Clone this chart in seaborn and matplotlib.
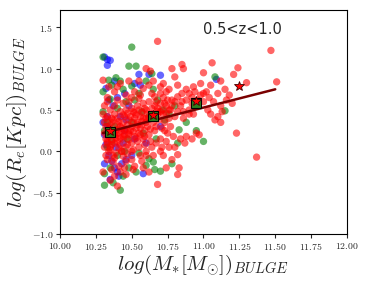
import numpy as np
import pandas as pd
import seaborn as sns
import matplotlib.pyplot as plt
from matplotlib.ticker import FuncFormatter

# scatter points (log M_bulge, log Re_bulge)
red_x = [11.47, 11.51, 11.37, 11.23, 11.24, 11.06, 11.30, 11.21, 11.12, 11.05, 11.15, 11.18, 11.10, 11.02, 11.07,
         11.12, 11.03, 11.10, 11.13, 11.20, 11.08, 11.00, 10.98, 10.93, 10.97, 10.95, 10.90, 10.88, 10.92, 10.98,
         11.00, 10.96, 10.90, 10.93, 10.85, 10.85, 10.82, 10.86, 10.85, 10.78, 10.80, 10.72, 10.76, 10.68, 10.60,
         10.63, 10.70, 10.75, 10.78, 10.82, 10.86, 10.88, 10.84, 10.80, 10.77, 10.73, 10.82, 10.83, 10.82, 10.78,
         10.74, 10.68, 10.72, 10.64, 10.60, 10.57, 10.60, 10.50, 10.45, 10.42, 10.40, 10.37, 10.33, 10.34, 10.30,
         10.34, 10.38, 10.42, 10.46, 10.52, 10.58, 10.62, 10.66, 10.55, 10.48, 10.40, 10.33, 10.30, 10.31, 10.35,
         10.38, 10.42, 10.46, 10.50, 10.54, 10.58, 10.62, 10.66, 10.70, 10.74, 10.78, 10.72, 10.68, 10.64, 10.60,
         10.56, 10.52, 10.48, 10.44, 10.40, 10.36, 10.32, 10.31, 10.34, 10.37, 10.41, 10.45, 10.49, 10.53, 10.57,
         10.61, 10.65, 10.69, 10.73, 10.76, 10.80, 10.66, 10.62, 10.58, 10.54, 10.50, 10.46, 10.42, 10.38, 10.33,
         10.31, 10.35, 10.39, 10.43, 10.47, 10.51, 10.55, 10.59, 10.63, 10.67, 10.70, 10.74, 10.71, 10.65, 10.56,
         10.48, 10.44, 10.36, 10.40, 10.44, 10.52, 10.60, 10.68, 10.76, 10.84, 10.88, 10.92, 10.96, 11.00, 11.04,
         10.94, 10.90, 10.86, 10.82, 10.80, 10.72, 10.64, 10.56, 10.50, 10.44, 10.38, 10.32, 10.34, 10.39, 10.43,
         10.47, 10.51, 10.55, 10.59, 10.63, 10.67, 10.71, 10.75, 10.79, 10.58, 10.52, 10.46, 10.38, 10.35, 10.62,
         10.70, 10.76, 10.87, 10.92, 10.55, 10.48, 10.40, 10.65, 10.70, 10.74, 11.16, 11.05, 11.12,
         10.32, 10.34, 10.36, 10.38, 10.40, 10.42, 10.44, 10.46, 10.48, 10.50, 10.52, 10.54, 10.56, 10.58, 10.60,
         10.31, 10.33, 10.35, 10.37, 10.39, 10.41, 10.43, 10.45, 10.47, 10.49, 10.51, 10.53, 10.55, 10.57, 10.59,
         10.32, 10.35, 10.38, 10.41, 10.44, 10.47, 10.50, 10.53, 10.56, 10.59, 10.62, 10.65, 10.68, 10.71, 10.74,
         10.33, 10.36, 10.39, 10.42, 10.45, 10.48, 10.51, 10.54, 10.57, 10.61, 10.64, 10.67, 10.70, 10.73, 10.77,
         10.36, 10.41, 10.46, 10.51, 10.30, 10.33, 10.37, 10.43]
red_y = [1.22, 0.84, -0.07, 0.22, 1.01, 1.07, 0.83, 0.93, 0.85, 0.80, 0.75, 0.68, 0.70, 0.72, 0.60,
         0.55, 0.50, 0.42, 0.48, 0.58, 0.38, 0.95, 0.82, 0.78, 0.20, 0.22, 0.70, 0.75, 0.65, 0.68,
         0.60, 0.55, 0.50, 0.45, 0.60, 0.70, 0.80, 1.00, 1.05, 1.00, 0.90, 0.82, 0.75, 1.33, 1.00,
         0.97, 0.70, 0.62, 0.55, 0.48, 0.40, 0.18, 0.15, 0.05, 0.30, 0.25, -0.04, -0.20, -0.28, -0.10,
         -0.20, -0.40, -0.05, 0.05, -0.05, -0.12, 0.00, -0.10, -0.20, -0.25, -0.42, -0.13, -0.10, 0.00, 0.86,
         0.78, 0.72, 0.82, 0.68, 0.72, 0.76, 0.80, 0.66, 0.64, 0.60, 0.62, 0.60, 0.45, 0.55, 0.50,
         0.45, 0.48, 0.50, 0.52, 0.55, 0.58, 0.60, 0.55, 0.58, 0.55, 0.62, 0.45, 0.48, 0.45, 0.40,
         0.42, 0.40, 0.38, 0.35, 0.32, 0.35, 0.30, 0.22, 0.18, 0.25, 0.22, 0.20, 0.25, 0.28, 0.32,
         0.30, 0.35, 0.38, 0.35, 0.40, 0.42, 0.25, 0.20, 0.15, 0.12, 0.10, 0.05, 0.08, 0.10, 0.12,
         0.05, 0.02, -0.02, 0.00, -0.03, 0.02, 0.05, 0.08, 0.12, 0.10, 0.15, 0.12, 0.05, -0.05, -0.05,
         0.14, 0.15, 0.40, 0.40, 0.44, 0.47, 0.50, 0.52, 0.50, 0.55, 0.62, 0.58, 0.62, 0.70, 0.65,
         0.72, 0.45, 0.48, 0.66, 0.60, 0.65, 0.70, 0.68, 0.65, 0.58, 0.55, 0.40, 0.24, 0.16, 0.28,
         0.32, 0.35, 0.22, 0.25, 0.27, 0.30, 0.28, 0.22, 0.18, -0.20, -0.18, -0.12, -0.30, -0.35, -0.25,
         0.00, 0.05, 0.10, 0.15, 0.85, 0.85, 0.78, 0.85, 0.78, 0.72, 0.62, 0.45, 0.35,
         0.15, 0.28, 0.08, 0.20, 0.12, 0.30, 0.18, 0.27, 0.22, 0.30, 0.18, 0.35, 0.28, 0.40, 0.35,
         0.35, 0.42, 0.32, 0.38, 0.26, 0.36, 0.24, 0.42, 0.46, 0.42, 0.48, 0.44, 0.50, 0.47, 0.52,
         -0.05, 0.05, -0.08, 0.04, -0.06, 0.08, 0.00, 0.16, 0.20, 0.18, 0.40, 0.42, 0.45, 0.50, 0.46,
         0.10, 0.14, 0.20, 0.16, 0.26, 0.20, 0.24, 0.32, 0.36, 0.45, 0.52, 0.60, 0.48, 0.58, 0.50,
         -0.22, -0.18, -0.28, -0.22, -0.25, 0.65, -0.05, 0.00]

green_x = [10.30, 10.50, 10.53, 10.48, 10.34, 10.39, 10.30, 10.36, 10.44, 10.50, 10.55, 10.64, 10.60, 10.65, 10.46,
           10.40, 10.30, 10.33, 10.38, 10.57, 10.62, 10.72, 10.80, 10.83, 10.82, 11.00, 11.15, 11.08, 10.95, 10.31,
           10.35, 10.31, 10.37, 10.42, 10.44, 10.48, 10.53, 10.60, 10.65, 10.66, 10.70, 10.78, 10.55, 10.62, 10.40,
           10.45, 10.33, 10.36, 10.31, 10.50, 10.58, 10.67, 10.73, 10.47, 10.35, 10.42, 10.52, 10.68, 10.76, 10.88]
green_y = [1.14, 1.26, 1.03, 1.03, 0.86, 0.89, 0.72, 0.80, 0.75, 0.79, 0.70, 0.94, 0.85, 0.75, 0.60,
           0.52, 0.48, 0.35, 0.30, 0.48, 0.42, 0.50, 0.55, 0.26, 0.10, 0.12, 0.49, 0.90, 0.25, -0.27,
           -0.20, -0.41, -0.38, -0.47, -0.30, -0.20, -0.25, -0.17, -0.13, -0.22, -0.24, -0.15, -0.02, -0.09, -0.05,
           0.00, 0.05, 0.12, 0.25, 0.35, 0.22, 0.15, 0.38, 0.15, 0.63, 0.85, 0.62, 0.62, 0.45, 0.35]

blue_x = [10.31, 10.33, 10.35, 10.33, 10.38, 10.32, 10.34, 10.40, 10.52, 10.55, 10.62, 10.70, 10.56, 10.45, 10.33,
          10.42, 10.46, 10.31, 10.32, 10.34, 10.31, 10.36, 10.38, 10.40, 10.35, 10.43, 10.46, 10.50, 10.58, 10.52,
          10.60, 10.45, 10.70, 10.30, 10.37, 10.48, 10.41, 10.33, 11.09, 10.44, 10.39]
blue_y = [1.14, 1.11, 1.10, 1.04, 0.85, 0.76, 0.62, 0.65, 0.82, 0.93, 0.93, 0.92, 0.80, 0.70, 0.42,
          0.42, 0.38, 0.20, 0.08, -0.05, -0.15, -0.12, -0.20, -0.25, -0.34, -0.15, -0.10, -0.05, -0.27, 0.15,
          0.10, 0.25, 0.30, 0.35, 0.55, 0.55, -0.30, 0.30, 0.87, 0.10, 0.05]

# binned medians and fit
bin_x = [10.35, 10.65, 10.95]
bin_y = [0.23, 0.43, 0.59]
star_x = [10.35, 10.65, 10.95, 11.25]
star_y = [0.25, 0.44, 0.61, 0.79]
fit_x = [10.30, 11.50]
fit_y = [0.22, 0.75]

df = pd.concat([
    pd.DataFrame({"m": blue_x, "r": blue_y, "c": "b"}),
    pd.DataFrame({"m": green_x, "r": green_y, "c": "g"}),
    pd.DataFrame({"m": red_x, "r": red_y, "c": "r"}),
])

sns.set_style("ticks")
plt.rcParams["mathtext.fontset"] = "cm"

fig = plt.figure(figsize=(3.66, 2.83), dpi=100)
ax = fig.add_axes([0.164, 0.173, 0.784, 0.792])

sns.scatterplot(data=df, x="m", y="r", hue="c", palette={"r": "red", "g": "green", "b": "blue"},
                s=28, alpha=0.6, linewidth=0, legend=False, ax=ax)
sns.lineplot(x=fit_x, y=fit_y, color="#7a0000", linewidth=1.8, ax=ax)
ax.plot(bin_x, bin_y, "s", ms=7, mfc="#2f7f1f", mec="black", mew=0.8, ls="none")
ax.plot(star_x, star_y, "*", ms=7, mfc="red", mec="#400000", mew=0.6, ls="none")

ax.set_xlim(10.0, 12.0)
ax.set_ylim(-1.0, 1.71)
ax.set_xticks([10.0, 10.25, 10.5, 10.75, 11.0, 11.25, 11.5, 11.75, 12.0])
ax.set_yticks([-1.0, -0.5, 0.0, 0.5, 1.0, 1.5])
ax.xaxis.set_major_formatter(FuncFormatter(lambda v, p: f"${v:.2f}$"))
ax.yaxis.set_major_formatter(FuncFormatter(lambda v, p: f"${v:.1f}$"))
ax.tick_params(labelsize=7, length=3, width=0.8, pad=2)
for s in ax.spines.values():
    s.set_color("black")
    s.set_linewidth(0.8)

ax.set_xlabel(r"$log(M_{*}[M_{\odot}])_{BULGE}$", fontsize=15, labelpad=0)
ax.set_ylabel(r"$log(R_e[Kpc])_{BULGE}$", fontsize=15, labelpad=2)
ax.text(11.0, 1.42, "0.5<z<1.0", fontsize=10.5)

fig.savefig("out.png", dpi=100)
